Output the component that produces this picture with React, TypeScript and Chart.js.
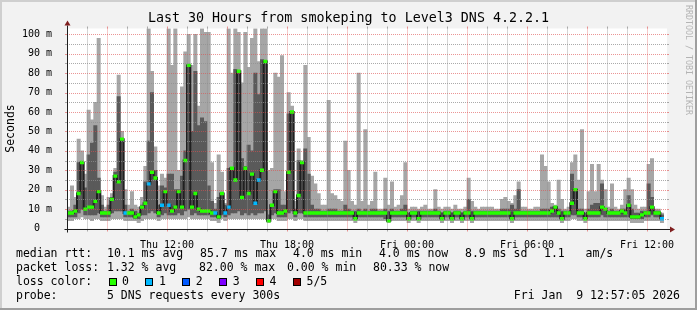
import React, { useEffect, useRef } from 'react';
import { Chart, registerables } from 'chart.js';

Chart.register(...registerables);

// ---- time axis (hours since Thu 00:00) ----
const SLOT_MINUTES = 10;
const START_HOUR = 7; // Thu 07:00
const END_HOUR = 37; // Fri 13:00

const xTickHours = [12, 18, 24, 30, 36];
const xTickLabels = ['Thu 12:00', 'Thu 18:00', 'Fri 00:00', 'Fri 06:00', 'Fri 12:00'];
const yTickValues = [0, 10, 20, 30, 40, 50, 60, 70, 80, 90, 100];
const Y_MAX = 103;

// ---- ping data (ms), one value per 10-minute slot ----
const maxRtt = [
  11, 22, 16, 46, 40, 28, 61, 56, 65, 98,
  17, 11, 16, 18, 31, 79, 50, 20, 12, 19,
  12, 11, 16, 32, 103, 81, 42, 22, 28, 26,
  103, 84, 103, 30, 73, 91, 100, 84, 100, 63,
  103, 101, 101, 34, 13, 38, 29, 13, 103, 80,
  103, 101, 75, 101, 83, 98, 103, 86, 103, 103,
  30, 31, 80, 78, 89, 19, 70, 63, 14, 41,
  35, 84, 47, 27, 23, 18, 12, 12, 66, 18,
  17, 15, 14, 45, 30, 14, 12, 80, 14, 51,
  12, 14, 29, 10, 10, 26, 12, 24, 11, 12,
  17, 34, 10, 11, 11, 10, 11, 12, 10, 10,
  20, 11, 10, 11, 11, 10, 12, 10, 10, 11,
  26, 14, 11, 10, 11, 11, 11, 11, 10, 10,
  15, 16, 14, 13, 17, 24, 11, 11, 10, 10,
  11, 11, 38, 32, 24, 13, 12, 25, 15, 10,
  11, 34, 38, 25, 51, 10, 19, 33, 19, 33,
  25, 20, 11, 23, 11, 10, 12, 20, 26, 20,
  12, 10, 11, 11, 33, 36, 10, 10, 8, null,
];

const upperRtt = [
  9, 9, 12, 34, 34, 21, 38, 44, 53, 26,
  12, 9, 12, 16, 29, 68, 46, 12, 9, 10,
  9, 8, 12, 24, 45, 70, 30, 12, 22, 21,
  28, 28, 20, 20, 27, 40, 84, 50, 81, 53,
  57, 55, 22, 14, 10, 16, 18, 12, 31, 31,
  82, 81, 36, 32, 43, 40, 80, 69, 87, 86,
  7, 12, 20, 20, 12, 12, 59, 60, 10, 35,
  34, 41, 28, 12, 10, 10, 9, 9, 10, 10,
  10, 9, 9, 12, 10, 9, 9, 10, 9, 10,
  9, 10, 10, 9, 9, 10, 9, 10, 9, 9,
  10, 12, 8, 9, 9, 9, 9, 9, 9, 9,
  10, 9, 8, 9, 9, 8, 9, 9, 8, 9,
  15, 9, 9, 9, 9, 9, 9, 9, 9, 9,
  10, 10, 10, 12, 10, 20, 9, 9, 9, 9,
  9, 9, 10, 10, 10, 11, 11, 10, 9, 9,
  9, 28, 20, 10, 10, 8, 10, 12, 13, 13,
  23, 10, 9, 10, 9, 9, 10, 10, 17, 10,
  8, 8, 9, 9, 23, 16, 9, 9, 7, null,
];

const medianRtt = [
  8, 8, 9, 18, 34, 10, 11, 11, 14, 19,
  8, 8, 8, 15, 27, 24, 46, 8, 8, 8,
  6, 7, 11, 13, 23, 29, 26, 8, 12, 19,
  12, 9, 11, 19, 11, 35, 84, 11, 18, 10,
  9, 9, 9, 8, 8, 6, 18, 8, 11, 31,
  25, 81, 16, 31, 18, 28, 13, 25, 30, 86,
  4, 12, 19, 8, 8, 9, 29, 60, 8, 17,
  34, 8, 8, 8, 8, 8, 8, 8, 8, 8,
  8, 8, 8, 8, 8, 8, 5, 8, 8, 8,
  8, 8, 8, 8, 8, 8, 4, 8, 8, 8,
  8, 8, 5, 8, 8, 5, 8, 8, 8, 8,
  8, 8, 5, 8, 8, 5, 8, 8, 5, 8,
  8, 5, 8, 8, 8, 8, 8, 8, 8, 8,
  8, 8, 8, 5, 8, 8, 8, 8, 8, 8,
  8, 8, 8, 8, 8, 9, 11, 8, 5, 8,
  8, 13, 20, 8, 8, 5, 8, 8, 8, 8,
  11, 10, 8, 8, 8, 8, 9, 8, 12, 6,
  6, 6, 7, 8, 8, 11, 8, 8, 5, null,
];

const lowerRtt = [
  6, 6, 6, 8, 10, 7, 7, 7, 7, 8,
  6, 6, 6, 8, 9, 9, 9, 6, 6, 6,
  5, 5, 7, 7, 8, 9, 8, 6, 7, 8,
  7, 7, 7, 8, 7, 9, 10, 7, 8, 7,
  7, 7, 7, 6, 6, 5, 7, 6, 7, 8,
  8, 9, 7, 8, 7, 8, 7, 8, 8, 9,
  4, 7, 8, 6, 6, 6, 8, 9, 6, 8,
  8, 6, 6, 6, 6, 6, 6, 6, 6, 6,
  6, 6, 6, 6, 6, 6, 5, 6, 6, 6,
  6, 6, 6, 6, 6, 5, 4, 6, 6, 6,
  6, 6, 5, 6, 6, 5, 6, 6, 6, 6,
  6, 6, 5, 6, 6, 5, 6, 6, 5, 6,
  6, 5, 6, 6, 6, 6, 6, 6, 6, 6,
  6, 6, 6, 5, 6, 6, 6, 6, 6, 6,
  6, 6, 6, 6, 6, 6, 6, 6, 5, 6,
  6, 7, 7, 6, 6, 5, 6, 6, 6, 6,
  7, 6, 6, 6, 6, 6, 6, 6, 6, 5,
  5, 5, 5, 6, 6, 7, 6, 6, 5, null,
];

const minRtt = [
  4, 4, 5, 5, 6, 5, 5, 4, 5, 5,
  4, 4, 4, 5, 5, 5, 5, 4, 4, 4,
  4, 3, 4, 5, 5, 5, 5, 4, 5, 5,
  5, 5, 5, 5, 5, 5, 6, 5, 5, 5,
  5, 5, 5, 4, 4, 3, 5, 4, 5, 5,
  5, 5, 5, 5, 5, 5, 5, 5, 5, 5,
  3, 5, 5, 4, 4, 4, 5, 5, 4, 5,
  5, 4, 4, 4, 4, 4, 4, 4, 4, 4,
  4, 4, 4, 4, 4, 4, 3, 4, 4, 4,
  4, 4, 4, 4, 4, 4, 3, 4, 4, 4,
  4, 4, 3, 4, 4, 3, 4, 4, 4, 4,
  4, 4, 3, 4, 4, 3, 4, 4, 3, 4,
  4, 3, 4, 4, 4, 4, 4, 4, 4, 4,
  4, 4, 4, 3, 4, 4, 4, 4, 4, 4,
  4, 4, 4, 4, 4, 4, 4, 4, 3, 4,
  4, 5, 5, 4, 4, 3, 4, 4, 4, 4,
  4, 4, 4, 4, 4, 4, 4, 4, 4, 3,
  3, 3, 3, 4, 4, 4, 4, 4, 3, null,
];

// number of lost pings (of 5) per slot
const lossCount = [
  0, 0, 0, 0, 0, 0, 0, 0, 0, 0,
  0, 0, 0, 0, 0, 0, 0, 1, 0, 0,
  0, 0, 0, 0, 1, 0, 0, 0, 1, 0,
  1, 0, 0, 0, 0, 0, 0, 0, 0, 0,
  0, 0, 0, 0, 1, 0, 0, 1, 1, 0,
  0, 0, 0, 0, 0, 0, 1, 1, 0, 0,
  0, 0, 0, 0, 0, 0, 0, 0, 0, 0,
  0, 0, 0, 0, 0, 0, 0, 0, 0, 0,
  0, 0, 0, 0, 0, 0, 0, 0, 0, 0,
  0, 0, 0, 0, 0, 0, 0, 0, 0, 0,
  0, 0, 0, 0, 0, 0, 0, 0, 0, 0,
  0, 0, 0, 0, 0, 0, 0, 0, 0, 0,
  0, 0, 0, 0, 0, 0, 0, 0, 0, 0,
  0, 0, 0, 0, 0, 0, 0, 0, 0, 0,
  0, 0, 0, 0, 0, 0, 0, 0, 0, 0,
  0, 0, 0, 0, 0, 0, 0, 0, 0, 0,
  0, 0, 0, 0, 0, 0, 0, 0, 0, 0,
  0, 0, 0, 0, 0, 0, 0, 0, 1, 0,
];

const lossColors = ['#26ff00', '#00b8ff', '#0059ff', '#7e00ff', '#ff0000', '#a10000'];
const lossLabels = ['0', '1', '2', '3', '4', '5/5'];

// ---- text ----
const titleText = 'Last 30 Hours from smokeping to Level3 DNS 4.2.2.1';
const yAxisTitle = 'Seconds';
const medianRttItems = ['10.1 ms avg', '85.7 ms max', '4.0 ms min', '4.0 ms now', '8.9 ms sd', '1.1   am/s'];
const packetLossItems = ['1.32 % avg', '82.00 % max', '0.00 % min', '80.33 % now'];
const probeText = '5 DNS requests every 300s';
const dateText = 'Fri Jan  9 12:57:05 2026';
const watermark = 'RRDTOOL / TOBI OETIKER';

const MONO = "'DejaVu Sans Mono', monospace";
const MEDIAN_HALF = 0.7;

export default function App() {
  const ref = useRef<HTMLCanvasElement>(null);

  useEffect(() => {
    const canvas = ref.current;
    if (!canvas) return;
    const slotH = SLOT_MINUTES / 60;
    const slotStart = (i: number) => START_HOUR + i * slotH;
    const slotMid = (i: number) => slotStart(i) + slotH / 2;

    const outer = maxRtt.map((v, i) => ({ x: slotMid(i), y: v == null ? null : [minRtt[i], v] }));
    const inner = upperRtt.map((v, i) => ({ x: slotMid(i), y: v == null ? null : [lowerRtt[i], v] }));
    const marks = medianRtt.map((m, i) => ({ x: slotMid(i), y: m == null ? null : [m - MEDIAN_HALF, m + MEDIAN_HALF] }));
    const markColors = lossCount.map((l) => lossColors[l]);
    const line: { x: number; y: number }[] = [];
    let last = -1;
    medianRtt.forEach((m, i) => {
      if (m != null) {
        line.push({ x: slotStart(i), y: m });
        last = i;
      }
    });
    if (last >= 0) line.push({ x: slotStart(last + 1), y: medianRtt[last] as number });

    const framePlugin = {
      id: 'rrdFrame',
      beforeDraw(chart: any) {
        const { ctx, chartArea: a } = chart;
        const W = chart.width, H = chart.height;
        ctx.save();
        ctx.fillStyle = '#f2f2f2';
        ctx.fillRect(0, 0, W, H);
        // 3d border
        ctx.fillStyle = '#cfcfcf';
        ctx.fillRect(0, 0, W, 2);
        ctx.fillRect(0, 0, 2, H);
        ctx.fillStyle = '#9e9e9e';
        ctx.fillRect(0, H - 2, W, 2);
        ctx.fillRect(W - 2, 0, 2, H);
        ctx.fillStyle = '#ffffff';
        ctx.fillRect(a.left, a.top, a.right - a.left, a.bottom - a.top);
        ctx.restore();
      },
      afterDatasetsDraw(chart: any) {
        const { ctx, chartArea: a, scales } = chart;
        const xs = scales.x, ys = scales.y;
        const minor = 'rgba(143,143,143,0.75)';
        const major = 'rgba(222,79,79,0.6)';
        ctx.save();
        ctx.lineWidth = 1;
        // horizontal grid
        for (let v = 5; v <= Y_MAX; v += 5) {
          const py = Math.round(ys.getPixelForValue(v)) + 0.5;
          const col = v % 10 === 0 ? major : minor;
          ctx.strokeStyle = col;
          ctx.setLineDash([1, 1]);
          ctx.beginPath();
          ctx.moveTo(a.left, py);
          ctx.lineTo(a.right, py);
          ctx.stroke();
          ctx.setLineDash([]);
          ctx.beginPath();
          ctx.moveTo(a.left - 2, py);
          ctx.lineTo(a.left, py);
          ctx.moveTo(a.right, py);
          ctx.lineTo(a.right + 2, py);
          ctx.stroke();
        }
        // vertical grid
        for (let h = START_HOUR + 1; h < END_HOUR; h += 1) {
          const px = Math.round(xs.getPixelForValue(h)) + 0.5;
          const col = h % 3 === 0 ? major : minor;
          ctx.strokeStyle = col;
          ctx.setLineDash([1, 1]);
          ctx.beginPath();
          ctx.moveTo(px, a.top);
          ctx.lineTo(px, a.bottom);
          ctx.stroke();
          ctx.setLineDash([]);
          ctx.beginPath();
          ctx.moveTo(px, a.top - 2);
          ctx.lineTo(px, a.top);
          ctx.moveTo(px, a.bottom);
          ctx.lineTo(px, a.bottom + 3);
          ctx.stroke();
        }
        // axes
        const x0 = Math.round(xs.getPixelForValue(START_HOUR)) + 0.5;
        const y0 = Math.round(ys.getPixelForValue(0)) + 0.5;
        ctx.strokeStyle = '#1f1f1f';
        ctx.beginPath();
        ctx.moveTo(x0 - 3, y0);
        ctx.lineTo(a.right + 4, y0);
        ctx.moveTo(x0, y0 + 3);
        ctx.lineTo(x0, a.top - 3);
        ctx.stroke();
        ctx.fillStyle = '#801f1f';
        ctx.beginPath();
        ctx.moveTo(a.right + 3, y0 - 3);
        ctx.lineTo(a.right + 8, y0);
        ctx.lineTo(a.right + 3, y0 + 3);
        ctx.closePath();
        ctx.fill();
        ctx.beginPath();
        ctx.moveTo(x0 - 3, a.top - 3);
        ctx.lineTo(x0, a.top - 8);
        ctx.lineTo(x0 + 3, a.top - 3);
        ctx.closePath();
        ctx.fill();
        ctx.restore();
      },
      afterDraw(chart: any) {
        const { ctx, chartArea: a } = chart;
        ctx.save();
        ctx.fillStyle = '#000';
        ctx.textBaseline = 'middle';
        // title
        ctx.font = `13.33px ${MONO}`;
        ctx.textAlign = 'center';
        ctx.fillText(titleText, chart.width / 2, 19);
        // y title
        ctx.save();
        ctx.font = `11.5px ${MONO}`;
        ctx.translate(11, (a.top + a.bottom) / 2);
        ctx.rotate(-Math.PI / 2);
        ctx.fillText(yAxisTitle, 0, 0);
        ctx.restore();
        // watermark
        ctx.save();
        ctx.font = `8.3px ${MONO}`;
        ctx.fillStyle = '#b4b4b4';
        ctx.textAlign = 'left';
        ctx.translate(688, 5);
        ctx.rotate(Math.PI / 2);
        ctx.fillText(watermark, 0, 0);
        ctx.restore();
        // legend
        ctx.font = `11.5px ${MONO}`;
        ctx.textAlign = 'left';
        const L1 = 254, L2 = 268, L3 = 282, L4 = 296;
        ctx.fillText('median rtt:', 16, L1);
        const medX = [107, 200, 293, 379, 465, 544];
        medianRttItems.forEach((t, i) => ctx.fillText(t, medX[i], L1));
        ctx.fillText('packet loss:', 16, L2);
        const lossX = [107, 199, 287, 373];
        packetLossItems.forEach((t, i) => ctx.fillText(t, lossX[i], L2));
        ctx.fillText('loss color:', 16, L3);
        lossLabels.forEach((lab, i) => {
          const bx = 108.5 + i * 36.9;
          ctx.fillStyle = lossColors[i];
          ctx.fillRect(Math.round(bx), L3 - 4, 8, 8);
          ctx.strokeStyle = '#000';
          ctx.lineWidth = 1;
          ctx.strokeRect(Math.round(bx) + 0.5, L3 - 4 + 0.5, 7, 7);
          ctx.fillStyle = '#000';
          ctx.fillText(lab, bx + 13.5, L3);
        });
        ctx.fillText('probe:', 16, L4);
        ctx.fillText(probeText, 107, L4);
        ctx.textAlign = 'right';
        ctx.fillText(dateText, 680, L4);
        ctx.restore();
      },
    };

    const chart = new Chart(canvas, {
      type: 'bar',
      data: {
        datasets: [
          {
            type: 'bar',
            label: 'median loss color',
            data: marks as any,
            backgroundColor: markColors,
            borderWidth: 0,
            grouped: false,
            barPercentage: 1,
            categoryPercentage: 1,
            order: 1,
          } as any,
          {
            type: 'line',
            label: 'median',
            data: line as any,
            borderColor: '#202020',
            borderWidth: 2,
            stepped: true,
            pointRadius: 0,
            fill: false,
            order: 2,
          } as any,
          {
            type: 'bar',
            label: 'smoke inner',
            data: inner as any,
            backgroundColor: '#5a5a5a',
            borderWidth: 0,
            grouped: false,
            barPercentage: 1,
            categoryPercentage: 1,
            order: 3,
          } as any,
          {
            type: 'bar',
            label: 'smoke outer',
            data: outer as any,
            backgroundColor: '#a6a6a6',
            borderWidth: 0,
            grouped: false,
            barPercentage: 1,
            categoryPercentage: 1,
            order: 4,
          } as any,
        ],
      },
      options: {
        responsive: false,
        animation: false,
        devicePixelRatio: 1,
        events: [],
        layout: { padding: { left: 0, right: 30, top: 28.5, bottom: 61.5 } },
        plugins: { legend: { display: false }, tooltip: { enabled: false }, title: { display: false } },
        scales: {
          x: {
            type: 'linear',
            min: START_HOUR,
            max: END_HOUR,
            offset: false,
            grid: { display: false },
            border: { display: false },
            afterBuildTicks: (s: any) => {
              s.ticks = xTickHours.map((v) => ({ value: v }));
            },
            afterFit: (s: any) => {
              s.height = 20;
            },
            ticks: {
              autoSkip: false,
              maxRotation: 0,
              minRotation: 0,
              padding: 3,
              color: '#000',
              font: { family: MONO, size: 10 },
              callback: (v: any) => {
                const k = xTickHours.indexOf(Number(v));
                return k >= 0 ? xTickLabels[k] : '';
              },
            },
          },
          y: {
            type: 'linear',
            min: 0,
            max: Y_MAX,
            grid: { display: false },
            border: { display: false },
            afterBuildTicks: (s: any) => {
              s.ticks = yTickValues.map((v) => ({ value: v }));
            },
            afterFit: (s: any) => {
              s.width = 67;
            },
            ticks: {
              padding: 7,
              color: '#000',
              font: { family: MONO, size: 10 },
              callback: (v: any) => (Number(v) === 0 ? '0  ' : `${v} m`),
            },
          },
        },
      } as any,
      plugins: [framePlugin],
    });
    return () => chart.destroy();
  }, []);

  return (
    <div style={{ position: 'absolute', left: 0, top: 0, width: 697, height: 310 }}>
      <canvas ref={ref} width={697} height={310} style={{ width: 697, height: 310, display: 'block' }} />
    </div>
  );
}
